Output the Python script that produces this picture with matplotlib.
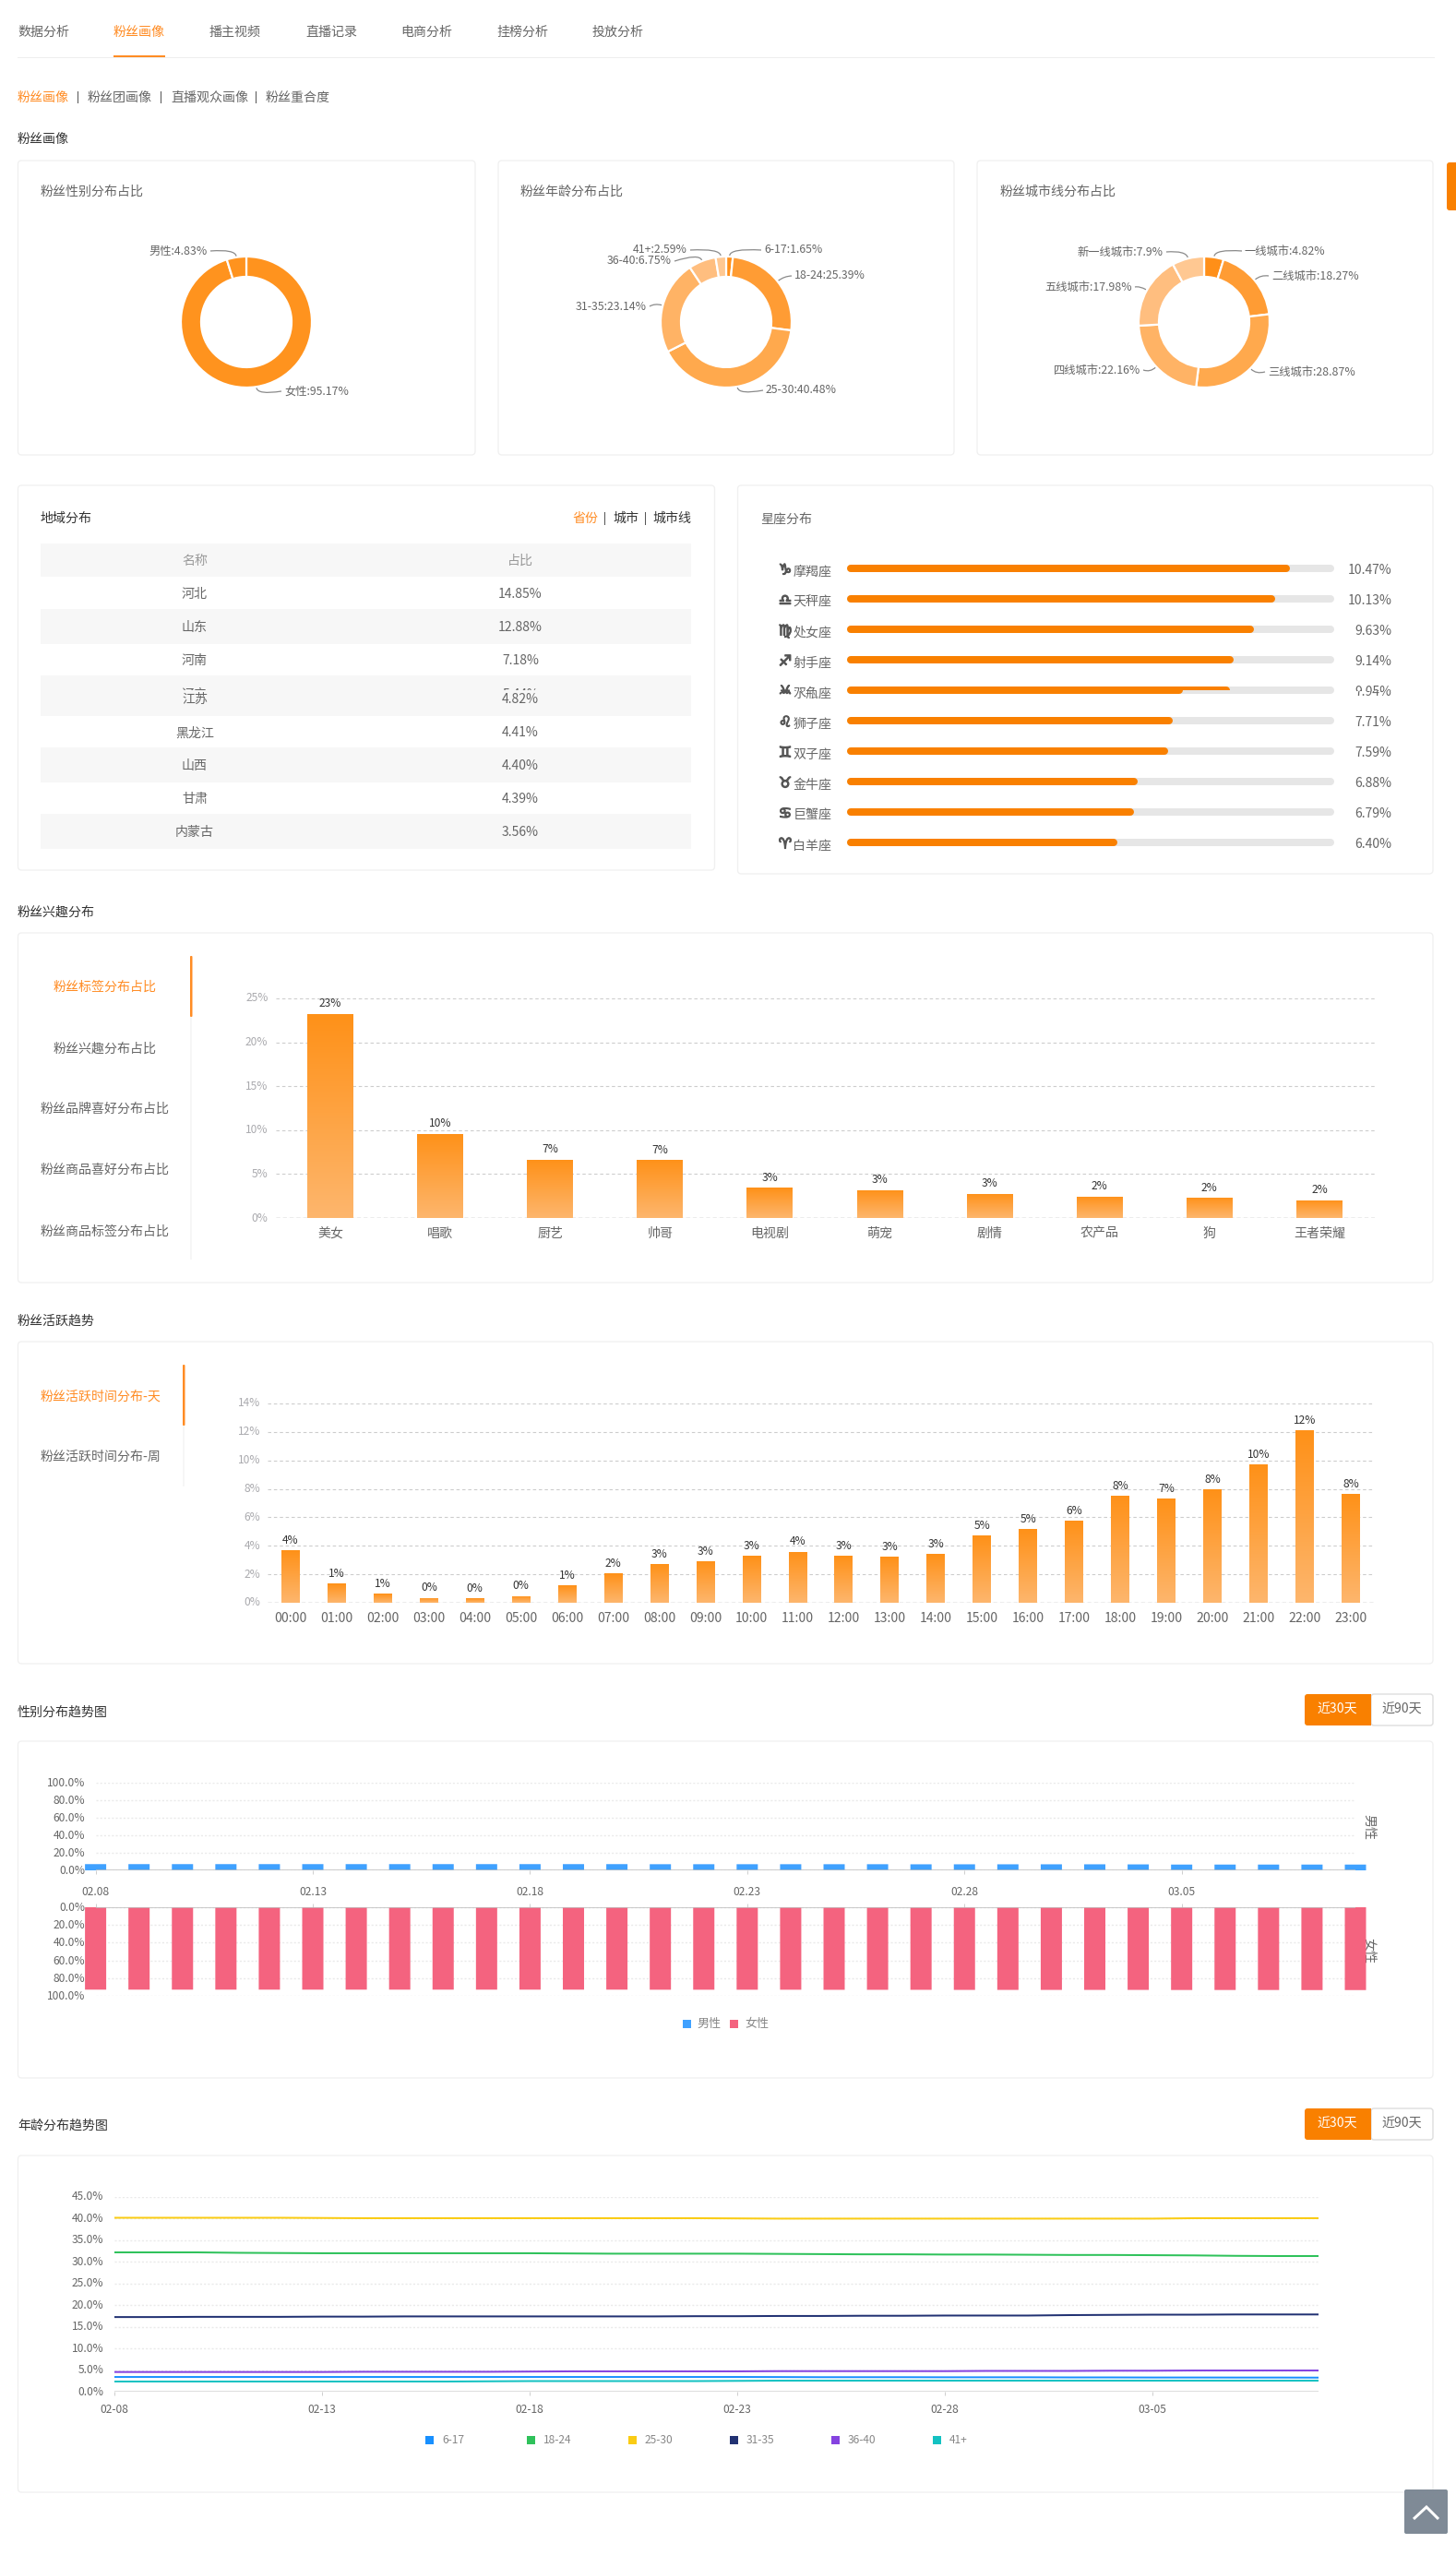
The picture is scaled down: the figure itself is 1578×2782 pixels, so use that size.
import numpy as np
import matplotlib
matplotlib.use("Agg")
import matplotlib.pyplot as plt
import matplotlib.patheffects as pe
from matplotlib.patches import FancyBboxPatch, Rectangle, PathPatch, Polygon
from matplotlib.path import Path
from matplotlib.transforms import Bbox, TransformedBbox, ScaledTranslation
from matplotlib.colors import LinearSegmentedColormap

plt.rcParams['font.family'] = ['Noto Sans CJK SC', 'DejaVu Sans']

# ---------- data ----------
nav_tabs = ['数据分析', '粉丝画像', '播主视频', '直播记录', '电商分析', '挂榜分析', '投放分析']
sub_tabs = ['粉丝画像', '粉丝团画像', '直播观众画像', '粉丝重合度']

gender_names = ['女性', '男性']
gender_vals = [95.17, 4.83]
age_names = ['6-17', '18-24', '25-30', '31-35', '36-40', '41+']
age_vals = [1.65, 25.39, 40.48, 23.14, 6.75, 2.59]
city_names = ['一线城市', '二线城市', '三线城市', '四线城市', '五线城市', '新一线城市']
city_vals = [4.82, 18.27, 28.87, 22.16, 17.98, 7.9]

region_names = ['河北', '山东', '河南', '江苏', '黑龙江', '山西', '甘肃', '内蒙古']
region_vals = ['14.85%', '12.88%', '7.18%', '4.82%', '4.41%', '4.40%', '4.39%', '3.56%']

zodiac_signs = ['♑', '♎', '♍', '♐', '♓', '♌', '♊', '♉', '♋', '♈']
zodiac_names = ['摩羯座', '天秤座', '处女座', '射手座', '双鱼座', '狮子座', '双子座', '金牛座', '巨蟹座', '白羊座']
zodiac_vals = [10.47, 10.13, 9.63, 9.14, 9.05, 7.71, 7.59, 6.88, 6.79, 6.40]
zodiac_under_name = '水瓶座'
zodiac_under_sign = '♒'
zodiac_under_val = 7.94

interest_tabs = ['粉丝标签分布占比', '粉丝兴趣分布占比', '粉丝品牌喜好分布占比', '粉丝商品喜好分布占比', '粉丝商品标签分布占比']
interest_names = ['美女', '唱歌', '厨艺', '帅哥', '电视剧', '萌宠', '剧情', '农产品', '狗', '王者荣耀']
interest_vals = [23.25, 9.6, 6.65, 6.63, 3.45, 3.19, 2.77, 2.45, 2.33, 2.03]

active_tabs = ['粉丝活跃时间分布-天', '粉丝活跃时间分布-周']
hours = ['00:00', '01:00', '02:00', '03:00', '04:00', '05:00', '06:00', '07:00', '08:00', '09:00', '10:00', '11:00',
         '12:00', '13:00', '14:00', '15:00', '16:00', '17:00', '18:00', '19:00', '20:00', '21:00', '22:00', '23:00']
hour_vals = [3.67, 1.34, 0.63, 0.35, 0.30, 0.48, 1.21, 2.05, 2.72, 2.92, 3.30, 3.59,
             3.28, 3.24, 3.41, 4.73, 5.18, 5.77, 7.52, 7.32, 7.97, 9.72, 12.12, 7.65]

gender_ticks = ['02.08', '02.13', '02.18', '02.23', '02.28', '03.05']
age_ticks = ['02-08', '02-13', '02-18', '02-23', '02-28', '03-05']
male_trend = [7.1, 7.1, 7.1, 7.1, 7.1, 7.1, 7.1, 7.1, 7.1, 7.1, 7.1, 7.1, 7.1, 7.0, 7.0,
              7.0, 7.0, 7.0, 7.0, 6.9, 6.9, 6.9, 6.9, 6.9, 6.8, 6.6, 6.6, 6.6, 6.6, 6.6]
female_trend = [93.0, 93.0, 93.0, 93.0, 93.0, 93.0, 93.0, 93.0, 93.0, 93.0, 93.0, 93.0, 93.0, 93.1, 93.1,
                93.1, 93.1, 93.2, 93.2, 93.2, 93.3, 93.3, 93.3, 93.3, 93.3, 93.4, 93.4, 93.4, 93.5, 93.5]

age_trend_names = ['6-17', '18-24', '25-30', '31-35', '36-40', '41+']
trend_617 = [3.40, 3.40, 3.40, 3.40, 3.40, 3.40, 3.40, 3.40, 3.40, 3.40, 3.40, 3.40, 3.40, 3.40, 3.40,
             3.40, 3.38, 3.35, 3.35, 3.35, 3.33, 3.33, 3.33, 3.30, 3.30, 3.28, 3.28, 3.27, 3.27, 3.25]
trend_1824 = [32.2, 32.2, 32.2, 32.1, 32.05, 32.0, 32.0, 32.0, 32.0, 32.0, 32.0, 31.95, 31.9, 31.9, 31.9,
              31.9, 31.85, 31.8, 31.75, 31.75, 31.7, 31.7, 31.65, 31.6, 31.6, 31.55, 31.5, 31.4, 31.35, 31.35]
trend_2530 = [40.2, 40.2, 40.2, 40.2, 40.2, 40.15, 40.1, 40.1, 40.1, 40.1, 40.1, 40.1, 40.1, 40.1, 40.1,
              40.05, 40.0, 40.0, 40.0, 40.0, 40.0, 40.0, 40.0, 40.0, 40.0, 40.0, 40.1, 40.1, 40.1, 40.1]
trend_3135 = [17.25, 17.25, 17.3, 17.3, 17.3, 17.35, 17.35, 17.4, 17.4, 17.4, 17.4, 17.4, 17.4, 17.4, 17.45,
              17.45, 17.5, 17.5, 17.55, 17.55, 17.6, 17.6, 17.6, 17.7, 17.75, 17.8, 17.8, 17.85, 17.85, 17.85]
trend_3640 = [4.55, 4.55, 4.55, 4.55, 4.55, 4.55, 4.6, 4.6, 4.6, 4.6, 4.65, 4.7, 4.7, 4.7, 4.7,
              4.7, 4.75, 4.75, 4.75, 4.75, 4.75, 4.8, 4.8, 4.8, 4.85, 4.85, 4.9, 4.9, 4.9, 4.9]
trend_41 = [2.35, 2.35, 2.35, 2.35, 2.35, 2.35, 2.35, 2.35, 2.35, 2.4, 2.45, 2.45, 2.45, 2.45, 2.45,
            2.5, 2.55, 2.55, 2.55, 2.55, 2.55, 2.55, 2.55, 2.55, 2.55, 2.55, 2.55, 2.55, 2.55, 2.55]

# ---------- styles ----------
W, H = 1578, 2782
ORANGE = '#F98000'
ACTIVE = '#FF8C24'
TXT = '#666666'
DARK = '#333333'
PIE_GENDER = ['#FF931E', '#FF931E']
PIE_SHADES = ['#FF8F18', '#FF9C34', '#FFA94D', '#FFB365', '#FFBE7F', '#FFC892']
TREND_COLORS = ['#1890FF', '#2FC25B', '#FACC14', '#223273', '#8543E0', '#13C2C2']
GRAD = LinearSegmentedColormap.from_list('g', ['#FF9118', '#FDB66D'])


def px(v):
    return v * 72 / 100


fig = plt.figure(figsize=(W / 100, H / 100), dpi=100, facecolor='white')
ov = fig.add_axes([0, 0, 1, 1], zorder=0)
ov.set_xlim(0, W)
ov.set_ylim(H, 0)
ov.axis('off')


def ax_px(x0, y0, x1, y1):
    a = fig.add_axes([x0 / W, 1 - y1 / H, (x1 - x0) / W, (y1 - y0) / H], zorder=2)
    a.patch.set_visible(False)
    for s in a.spines.values():
        s.set_visible(False)
    return a


def T(x, y, s, size=14, color=TXT, ha='left', va='center', dy=1.2, **kw):
    return ov.text(x, y + dy, s, fontsize=px(size), color=color, ha=ha, va=va, **kw)


def card(x0, y0, x1, y1):
    ov.add_patch(FancyBboxPatch((x0, y0), x1 - x0, y1 - y0, boxstyle='round,pad=0,rounding_size=4',
                                fc='white', ec='#F0F0F0', lw=0.95))


def rect(x0, y0, x1, y1, c):
    ov.add_patch(Rectangle((x0, y0), x1 - x0, y1 - y0, fc=c, ec='none'))


def lift_ylabels(a, d=1.5):
    off = ScaledTranslation(0, d / 100, fig.dpi_scale_trans)
    for lb in a.get_yticklabels():
        lb.set_transform(lb.get_transform() + off)


# ---------- navigation ----------
for s, x in zip(nav_tabs, [19, 123, 227, 331, 434, 538, 642]):
    T(x, 34, s, color=ACTIVE if s == '粉丝画像' else TXT)
rect(19, 61.5, 1555, 63, '#EEEEEE')
rect(123, 60, 179, 62, ACTIVE)
for s, x, c in zip(sub_tabs, [19, 95, 185, 288], [ACTIVE, TXT, TXT, TXT]):
    T(x, 105, s, color=c)
for x in [85, 175, 278]:
    rect(x - 0.5, 99, x + 0.5, 112, '#555555')
T(19, 150, '粉丝画像', color=DARK)
ov.add_patch(FancyBboxPatch((1568, 176), 14, 52, boxstyle='round,pad=0,rounding_size=3', fc=ORANGE, ec='none', clip_on=True))

# ---------- donuts ----------
for x0, x1, tx, title in [(19.5, 515, 44, '粉丝性别分布占比'), (540, 1034, 564, '粉丝年龄分布占比'), (1059, 1553, 1084, '粉丝城市线分布占比')]:
    card(x0, 174, x1, 493)
    T(tx, 207, title)


def donut(cx, names, vals, colors, labels):
    cy, R = 349, 71
    a = ax_px(cx - R, cy - R, cx + R, cy + R)
    wedges, _ = a.pie(vals, colors=colors, startangle=90, counterclock=False, radius=1,
                      wedgeprops=dict(width=22 / 71, edgecolor='white', linewidth=1.6))
    for w in wedges:
        w.set_clip_on(False)
    a.set_xlim(-1, 1)
    a.set_ylim(-1, 1)
    cum = 0
    total = sum(vals)
    for n, v in zip(names, vals):
        th = np.deg2rad(360 * (cum + v / 2) / total)
        cum += v
        lx, ly = labels[n]
        sx, sy = np.sin(th), -np.cos(th)
        p0 = (cx + (R + 1) * sx, cy + (R + 1) * sy)
        p1 = (cx + (R + 9) * sx, cy + (R + 9) * sy)
        right = lx > cx
        p2 = (lx + (-3 if right else 3), ly)
        ov.add_patch(PathPatch(Path([p0, p1, p2], [Path.MOVETO, Path.CURVE3, Path.CURVE3]),
                               fc='none', ec='#8A8A8A', lw=0.9))
        T(lx, ly, f'{n}:{v}%', size=12.3, dy=0, ha='left' if right else 'right')


donut(267, gender_names, gender_vals, PIE_GENDER,
      {'女性': (308, 424), '男性': (225, 272)})
donut(787, age_names, age_vals, PIE_SHADES,
      {'6-17': (828, 271), '18-24': (861, 299), '25-30': (830, 423), '31-35': (701, 332), '36-40': (728, 283), '41+': (745, 271)})
donut(1305, city_names, city_vals, PIE_SHADES,
      {'一线城市': (1349, 272), '二线城市': (1378, 299), '三线城市': (1374, 403), '四线城市': (1236, 401), '五线城市': (1227, 311), '新一线城市': (1261, 273)})

# ---------- region table ----------
card(19.5, 526, 774.5, 943)
T(44, 561, '地域分布', color=DARK)
T(620, 561, '省份', color=ACTIVE)
T(664, 561, '城市', color=DARK)
T(707, 561, '城市线', color=DARK)
for x in [655.5, 699.5]:
    rect(x - 0.5, 555, x + 0.5, 569, '#555555')
for y0, y1 in [(589, 625), (660, 698), (732, 776), (810, 848), (882, 920)]:
    rect(44, y0, 749, y1, '#F7F7F7')
T(211, 607, '名称', color='#999999', ha='center')
T(564, 607, '占比', color='#999999', ha='center')
row_y = [643, 679, 715, 757, 793, 829, 865, 901]
for n, v, y in zip(region_names, region_vals, row_y):
    T(211, y, n, ha='center')
    T(564, y, v, ha='center')
# row partly hidden behind the next one in the source screenshot
clip_rows = TransformedBbox(Bbox([[0, 740], [W, 748.3]]), ov.transData)
for s, x in [('辽宁', 211), ('5.44%', 564)]:
    t = T(x, 752, s, ha='center')
    t.set_clip_box(clip_rows)
    t.set_clip_on(True)

# ---------- zodiac ----------
card(799.5, 526, 1553, 947)
T(824, 561, '星座分布')
row_h = 33
ZX0, ZX1 = 918, 1446
zy0 = 616 - row_h / 2
zn = len(zodiac_vals)
az = ax_px(ZX0, zy0, ZX1, zy0 + row_h * zn)
az.set_xlim(0, 11.52)
az.set_ylim(zn - 0.5, -0.5)
az.set_xticks([])
az.set_yticks([])
cap = 4 * 11.52 / (ZX1 - ZX0)
yy = np.arange(zn)
az.hlines(yy, cap, 11.52 - cap, color='#E6E6E6', lw=px(8), capstyle='round', clip_on=False)
main_idx = [i for i in yy if i != 4]
az.hlines(main_idx, cap, [zodiac_vals[i] - cap for i in main_idx], color=ORANGE, lw=px(8), capstyle='round', clip_on=False)
top_half = az.hlines([4], cap, [zodiac_vals[4] - cap], color=ORANGE, lw=px(8), capstyle='round')
low_half = az.hlines([4], cap, [zodiac_under_val - cap], color=ORANGE, lw=px(8), capstyle='round')
top_half.set_clip_box(TransformedBbox(Bbox([[-1, 3.5], [12, 4.01]]), az.transData))
low_half.set_clip_box(TransformedBbox(Bbox([[-1, 4.01], [12, 4.5]]), az.transData))
STROKE = [pe.withStroke(linewidth=0.9, foreground='#555555')]


def sign_text(yc, sg):
    return T(851, yc + 2, sg, size=16, color='#555555', ha='center', dy=0, family='DejaVu Sans',
             fontweight='bold', path_effects=STROKE)


for i in range(zn):
    yc = 616 + i * row_h
    if i == 4:
        boxes = [(Bbox([[0, yc - 12], [W, yc + 0.5]]), zodiac_signs[i], zodiac_names[i], f'{zodiac_vals[i]:.2f}%'),
                 (Bbox([[0, yc + 0.5], [W, yc + 12]]), zodiac_under_sign, zodiac_under_name, f'{zodiac_under_val:.2f}%')]
        for bb, sg, nm, vl in boxes:
            cb = TransformedBbox(bb, ov.transData)
            for t in (sign_text(yc, sg),
                      T(901.5, yc + 2, nm, ha='right'),
                      T(1508.5, yc + 1, vl, ha='right')):
                t.set_clip_box(cb)
                t.set_clip_on(True)
    else:
        sign_text(yc, zodiac_signs[i])
        T(901.5, yc + 2, zodiac_names[i], ha='right')
        T(1508.5, yc + 1, f'{zodiac_vals[i]:.2f}%', ha='right')


# ---------- gradient bars ----------
def grad_bars(a, vals, width, off=10.8):
    xs = np.arange(len(vals))
    bars = a.bar(xs, vals, width, color='#FF9C34', zorder=2, clip_on=False)
    g = np.linspace(0, 1, 128).reshape(-1, 1)
    for x, v, b in zip(xs, vals, bars):
        im = a.imshow(g, extent=[x - width / 2, x + width / 2, 0, v], cmap=GRAD, aspect='auto',
                      origin='upper', zorder=3, interpolation='bilinear')
        im.set_clip_path(b)
        a.annotate(f'{round(v)}%', (x, v), xytext=(0, px(off)), textcoords='offset points',
                   ha='center', va='center', fontsize=px(12), color=DARK, zorder=4)


def bar_axes(a, ticks, labels, ymax, xlabels, n):
    a.set_xlim(-0.5, n - 0.5)
    a.set_ylim(0, ymax)
    a.set_yticks(ticks)
    a.set_yticklabels(labels)
    a.set_xticks(np.arange(n))
    a.set_xticklabels(xlabels)
    a.tick_params(axis='y', length=0, pad=px(8), labelsize=px(12), labelcolor='#AAAAAE')
    a.tick_params(axis='x', length=0, pad=px(9.5), labelsize=px(14), labelcolor=TXT)
    a.yaxis.grid(True, color='#CDCDCD', lw=px(1.1), ls=(0, (3.2, 2.6)))
    a.set_axisbelow(True)
    a.axhline(0, color='#A8A8A8', lw=px(1.4), ls=(0, (3, 2.2)), zorder=1)
    lift_ylabels(a)


# ---------- interests ----------
T(19, 987, '粉丝兴趣分布', color=DARK)
card(19.5, 1011, 1553, 1390)
rect(206.5, 1036, 208, 1365, '#F6F6F6')
ov.add_patch(FancyBboxPatch((206, 1036), 2.5, 66, boxstyle='round,pad=0,rounding_size=1', fc=ACTIVE, ec='none'))
for i, (s, y) in enumerate(zip(interest_tabs, [1069, 1135, 1201, 1267, 1334])):
    T(114, y, s, ha='center', color=ACTIVE if i == 0 else TXT)
ai = ax_px(298.5, 1082, 1489.5, 1320)
grad_bars(ai, interest_vals, 50 / 119.1)
bar_axes(ai, [0, 5, 10, 15, 20, 25], ['0%', '5%', '10%', '15%', '20%', '25%'], 25, interest_names, len(interest_vals))

# ---------- activity ----------
T(19, 1430, '粉丝活跃趋势', color=DARK)
card(19.5, 1454, 1553, 1803)
rect(198.5, 1479, 200, 1611, '#F6F6F6')
ov.add_patch(FancyBboxPatch((198, 1479), 2.5, 66, boxstyle='round,pad=0,rounding_size=1', fc=ACTIVE, ec='none'))
for i, (s, y) in enumerate(zip(active_tabs, [1512, 1578])):
    T(109, y, s, ha='center', color=ACTIVE if i == 0 else TXT)
aa = ax_px(290, 1521, 1489, 1737)
grad_bars(aa, hour_vals, 20 / 49.97)
bar_axes(aa, [0, 2, 4, 6, 8, 10, 12, 14], ['0%', '2%', '4%', '6%', '8%', '10%', '12%', '14%'], 14, hours, len(hours))


# ---------- trend helpers ----------
def buttons(y0, y1):
    ov.add_patch(FancyBboxPatch((1486, y0), 67, y1 - y0, boxstyle='round,pad=0,rounding_size=3', fc='white', ec='#DDDDDD', lw=1))
    ov.add_patch(FancyBboxPatch((1414, y0), 71, y1 - y0, boxstyle='round,pad=0,rounding_size=3', fc=ORANGE, ec='none'))
    rect(1478, y0, 1486, y1, ORANGE)
    T(1449.5, (y0 + y1) / 2, '近30天', color='white', ha='center', dy=0)
    T(1519.5, (y0 + y1) / 2, '近90天', color=TXT, ha='center', dy=0)


GRID_KW = dict(color='#EAEAEA', lw=px(1.4), ls=(0, (1.5, 1.5)))
pct_gender = ['0.0%', '20.0%', '40.0%', '60.0%', '80.0%', '100.0%']

# ---------- gender trend ----------
T(19, 1854, '性别分布趋势图', color=DARK)
buttons(1836, 1870)
card(19.5, 1887, 1553, 2252)
days = np.arange(len(male_trend))
for (y0, y1, series, col, inverted) in [(1932, 2027, male_trend, '#3FA1FF', False),
                                        (2067, 2163, female_trend, '#F4637F', True)]:
    a = ax_px(103.6, y0, 1469, y1)
    bs = a.bar(days, series, 23 / 47.1, color=col, zorder=3, clip_on=False)
    for b in bs:
        b.set_snap(False)
    a.set_xlim(0, 29)
    a.set_ylim(100, 0) if inverted else a.set_ylim(0, 100)
    a.set_yticks([0, 20, 40, 60, 80, 100])
    a.set_yticklabels(pct_gender)
    a.yaxis.grid(True, **GRID_KW)
    a.set_axisbelow(True)
    a.tick_params(axis='y', length=0, pad=px(11.5), labelsize=px(12), labelcolor=TXT)
    a.set_xticks(days[::5][:6])
    if inverted:
        a.xaxis.tick_top()
        a.set_xticklabels([])
    else:
        a.set_xticklabels(gender_ticks)
    a.tick_params(axis='x', length=px(4), width=px(1), color='#CFCFCF', pad=px(13), labelsize=px(12), labelcolor=TXT)
    a.axhline(0, color='#BBBBBB', lw=px(1.5), zorder=4)
    lift_ylabels(a, 1.0)
t1 = T(1484, 1980, '男性', rotation=-90, ha='center', dy=0)
t2 = T(1484, 2114, '女性', rotation=-90, ha='center', dy=0)
rect(740, 2188.5, 749, 2197.5, '#3FA1FF')
T(755, 2193, '男性', size=13, color='#888888', dy=0)
rect(791, 2188.5, 800, 2197.5, '#F4637F')
T(807, 2193, '女性', size=13, color='#888888', dy=0)

# ---------- age trend ----------
T(19, 2302, '年龄分布趋势图', color=DARK)
buttons(2285, 2319)
card(19.5, 2336, 1553, 2701)
ag = ax_px(124, 2381, 1429, 2592)
series_all = [trend_617, trend_1824, trend_2530, trend_3135, trend_3640, trend_41]
for s, c in zip(series_all, TREND_COLORS):
    ag.plot(days, s, color=c, lw=px(2), zorder=3)
ag.set_xlim(0, 29)
ag.set_ylim(0, 45)
ag.set_yticks(np.arange(0, 46, 5))
ag.set_yticklabels([f'{v:.1f}%' for v in np.arange(0, 46, 5)])
ag.yaxis.grid(True, **GRID_KW)
ag.set_axisbelow(True)
ag.tick_params(axis='y', length=0, pad=px(11.5), labelsize=px(12), labelcolor=TXT)
ag.set_xticks(days[::5][:6])
ag.set_xticklabels(age_ticks)
ag.tick_params(axis='x', length=px(4), width=px(1), color='#CFCFCF', pad=px(9), labelsize=px(12), labelcolor=TXT)
ag.axhline(0, color='#DDDDDD', lw=px(2), zorder=2)
lift_ylabels(ag)
for n, c, x in zip(age_trend_names, TREND_COLORS, [461, 571, 681, 791, 901, 1011]):
    rect(x, 2640, x + 9, 2649, c)
    T(x + 18, 2644, n, size=12, color='#888888', dy=0)

# ---------- back-to-top ----------
ov.add_patch(FancyBboxPatch((1522, 2698), 47, 48, boxstyle='round,pad=0,rounding_size=2', fc='#7F8A96', ec='none', zorder=5))
ov.add_patch(Polygon([[1532, 2730], [1546, 2717], [1559, 2730]], closed=False, fc='none', ec='white', lw=px(3), zorder=6))

fig.savefig('out.png', dpi=100, facecolor='white')
